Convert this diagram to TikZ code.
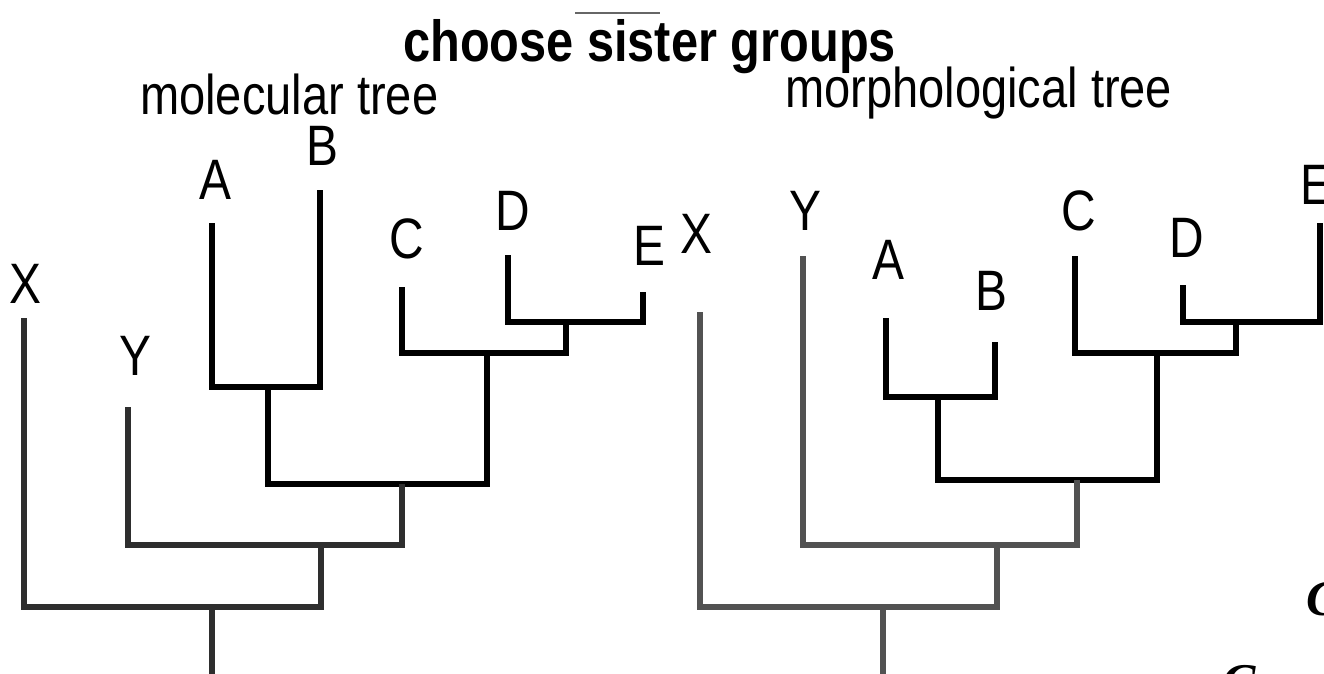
\documentclass[tikz,border=0pt]{standalone}
\usepackage{graphicx}
\usepackage{fontspec}
\setmainfont{Liberation Sans}
\newfontfamily\cutfont{Liberation Serif}
\newcommand\cond[1]{\scalebox{0.84}[1]{#1}}
\begin{document}
\begin{tikzpicture}[x=1pt,y=-1pt,
  lbl/.style={inner sep=0pt, anchor=base, font=\fontsize{57}{57}\selectfont},
  heading/.style={inner sep=0pt, anchor=base west, font=\fontsize{56}{56}\selectfont},
  inner/.style={draw=black, line width=6pt, line join=miter},
  outerL/.style={draw=black!82, line width=5.5pt, line join=miter},
  outerR/.style={draw=black!68, line width=6pt, line join=miter},
  cut/.style={inner sep=0pt, anchor=base west, font=\fontsize{50}{50}\selectfont\cutfont\bfseries\itshape}]
\useasboundingbox (0,0) rectangle (1324,674);
\clip (0,0) rectangle (1324,674);

% headings
\node[heading, font=\fontsize{58}{58}\selectfont\bfseries] (title) at (403,62) {\cond{choose sister groups}};
\draw[black!60, line width=2.5pt] (575,13) -- (660,13);
\node[heading] (molhead) at (140,115) {\cond{molecular tree}};
\node[heading] (morhead) at (785,107) {\cond{morphological tree}};

% ---------- molecular tree ----------
\coordinate (lX) at (24,318);
\coordinate (lY) at (128,407);
\coordinate (lA) at (212,223);
\coordinate (lB) at (320,190);
\coordinate (lC) at (402,287);
\coordinate (lD) at (508,255);
\coordinate (lE) at (643,292);
\coordinate (ljDE) at (566,322);
\coordinate (ljCDE) at (487,353);
\coordinate (ljAB) at (268,387);
\coordinate (ljABCDE) at (402,484);
\coordinate (ljY) at (321,545);
\coordinate (ljRoot) at (212,607);
\coordinate (lBase) at (212,690);

\node[lbl] (tX) at (25,303) {\cond{X}};
\node[lbl] (tY) at (135,375) {\cond{Y}};
\node[lbl] (tA) at (215,199) {\cond{A}};
\node[lbl] (tB) at (322,165) {\cond{B}};
\node[lbl] (tC) at (407,258) {\cond{C}};
\node[lbl] (tD) at (513,230) {\cond{D}};
\node[lbl] (tE) at (649,265) {\cond{E}};

\draw[inner] (lD) |- (ljDE) -| (lE);
\draw[inner] (lC) |- (ljCDE) -| (ljDE);
\draw[inner, line width=6.5pt] (lA) |- (ljAB) -| (lB);
\draw[inner] (ljAB) |- (ljABCDE) -| (ljCDE);
\draw[outerL] (lY) |- (ljY) -| (ljABCDE);
\draw[outerL] (lX) |- (ljRoot) -| (ljY);
\draw[outerL] (ljRoot) -- (lBase);

% ---------- morphological tree ----------
\coordinate (rX) at (700,312);
\coordinate (rY) at (803,256);
\coordinate (rA) at (886,318);
\coordinate (rB) at (995,342);
\coordinate (rC) at (1075,256);
\coordinate (rD) at (1183,285);
\coordinate (rE) at (1320,223);
\coordinate (rjDE) at (1236,322);
\coordinate (rjCDE) at (1157,353);
\coordinate (rjAB) at (938,397);
\coordinate (rjABCDE) at (1077,480);
\coordinate (rjY) at (997,545);
\coordinate (rjRoot) at (883,607);
\coordinate (rBase) at (883,690);

\node[lbl] (uX) at (696,253) {\cond{X}};
\node[lbl] (uY) at (805,230) {\cond{Y}};
\node[lbl] (uA) at (888,279) {\cond{A}};
\node[lbl] (uB) at (991,310) {\cond{B}};
\node[lbl] (uC) at (1079,230) {\cond{C}};
\node[lbl] (uD) at (1187,257) {\cond{D}};
\node[lbl] (uE) at (1316,204) {\cond{E}};

\draw[inner] (rD) |- (rjDE) -| (rE);
\draw[inner] (rC) |- (rjCDE) -| (rjDE);
\draw[inner] (rA) |- (rjAB) -| (rB);
\draw[inner] (rjAB) |- (rjABCDE) -| (rjCDE);
\draw[outerR] (rY) |- (rjY) -| (rjABCDE);
\draw[outerR] (rX) |- (rjRoot) -| (rjY);
\draw[outerR] (rjRoot) -- (rBase);

% running text cut off at the margin
\node[cut] (cutA) at (1306,615) {C};
\node[cut] (cutB) at (1222,698) {C};
\end{tikzpicture}
\end{document}
